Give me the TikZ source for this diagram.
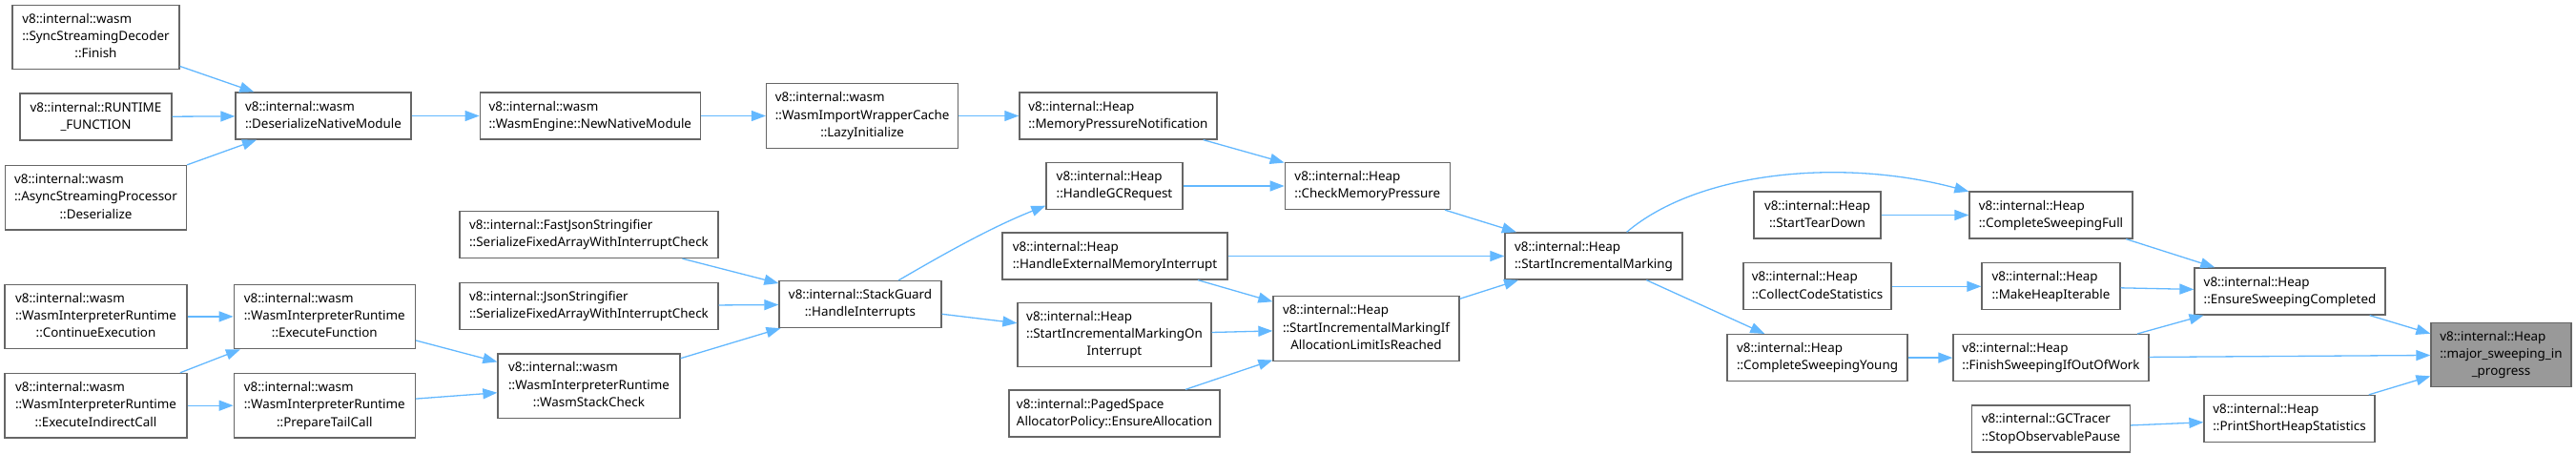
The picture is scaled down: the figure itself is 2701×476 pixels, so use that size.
\documentclass[tikz,border=0pt]{standalone}
\usepackage{fontspec}
\setmainfont{Noto Sans}
\usepackage{tikz}
\usetikzlibrary{arrows.meta, positioning}
\definecolor{edgeblue}{HTML}{63B8FF}
\newcommand{\fnlabel}[2]{\begin{tabular}{@{}l@{}}#1\\\multicolumn{1}{@{}c@{}}{#2}\end{tabular}}

\begin{document}
\begin{tikzpicture}[
  x=1pt, y=-1pt,
  node distance=24pt,
  every node/.style={font=\fontsize{13.4}{18.3}\selectfont},
  fn/.style={draw=black!60, line width=1.3pt, fill=white, inner xsep=5pt, inner ysep=3pt, minimum height=49pt},
  fn3/.style={fn, minimum height=67.5pt},
  cur/.style={fn3, fill=black!40},
  arrow/.style={-{Triangle[length=15pt, width=11pt]}, draw=edgeblue, line width=1.3pt}
]
\useasboundingbox (0,0) rectangle (2701,476);

% Column 1: wasm callers
\node[fn3, minimum width=175pt] (sync) at (100.5,39) {\fnlabel{v8::internal::wasm\\::SyncStreamingDecoder}{::Finish}};
\node[fn, minimum width=159pt, below=24pt of sync] (runtime) {\fnlabel{v8::internal::RUNTIME}{\_FUNCTION}};
\node[fn3, minimum width=190pt, below=25pt of runtime] (async) {\fnlabel{v8::internal::wasm\\::AsyncStreamingProcessor}{::Deserialize}};
\node[fn3, minimum width=191pt, below=56pt of async] (contexec) {\fnlabel{v8::internal::wasm\\::WasmInterpreterRuntime}{::ContinueExecution}};
\node[fn3, minimum width=191pt, below=24.5pt of contexec] (execindirect) {\fnlabel{v8::internal::wasm\\::WasmInterpreterRuntime}{::ExecuteIndirectCall}};

% Column 2
\node[fn, minimum width=184pt] (deser) at (339,121.5) {\fnlabel{v8::internal::wasm}{::DeserializeNativeModule}};
\node[fn3, minimum width=190pt, right=48pt of contexec] (execfn) {\fnlabel{v8::internal::wasm\\::WasmInterpreterRuntime}{::ExecuteFunction}};
\node[fn3, minimum width=190pt, right=48pt of execindirect] (tailcall) {\fnlabel{v8::internal::wasm\\::WasmInterpreterRuntime}{::PrepareTailCall}};

% Column 3
\node[fn, minimum width=231pt, right=71pt of deser] (newnative) {\fnlabel{v8::internal::wasm}{::WasmEngine::NewNativeModule}};
\node[fn, minimum width=271pt] (fastjson) at (617.5,246) {\fnlabel{v8::internal::FastJsonStringifier}{::SerializeFixedArrayWithInterruptCheck}};
\node[fn, minimum width=271pt, below=24.5pt of fastjson] (json) {\fnlabel{v8::internal::JsonStringifier}{::SerializeFixedArrayWithInterruptCheck}};
\node[fn3, minimum width=191pt, below=24.25pt of json] (stackcheck) {\fnlabel{v8::internal::wasm\\::WasmInterpreterRuntime}{::WasmStackCheck}};

% Column 4
\node[fn3, minimum width=201pt, right=68pt of newnative] (lazy) {\fnlabel{v8::internal::wasm\\::WasmImportWrapperCache}{::LazyInitialize}};
\node[fn, minimum width=170pt] (stackguard) at (902,319) {\fnlabel{v8::internal::StackGuard}{::HandleInterrupts}};

% Column 5
\node[fn, minimum width=207pt, right=63pt of lazy] (mempress) {\fnlabel{v8::internal::Heap}{::MemoryPressureNotification}};
\node[fn, minimum width=143pt] (handlegc) at (1168.5,195) {\fnlabel{v8::internal::Heap}{::HandleGCRequest}};
\node[fn, minimum width=236pt] (extmem) at (1169,268.5) {\fnlabel{v8::internal::Heap}{::HandleExternalMemoryInterrupt}};
\node[fn3, minimum width=203pt] (oninterrupt) at (1168.5,351) {\fnlabel{v8::internal::Heap\\::StartIncrementalMarkingOn}{Interrupt}};
\node[fn, minimum width=221pt] (paged) at (1168.5,433.5) {\fnlabel{v8::internal::PagedSpace}{AllocatorPolicy::EnsureAllocation}};

% Column 6
\node[fn, minimum width=173pt, right=106pt of handlegc] (checkmem) {\fnlabel{v8::internal::Heap}{::CheckMemoryPressure}};
\node[fn3, minimum width=195pt] (ifreached) at (1432.5,344.5) {\fnlabel{v8::internal::Heap\\::StartIncrementalMarkingIf}{AllocationLimitIsReached}};

% Column 7
\node[fn, minimum width=186pt] (startinc) at (1671,268.5) {\fnlabel{v8::internal::Heap}{::StartIncrementalMarking}};

% Column 8
\node[fn, minimum width=133pt] (teardown) at (1905.5,225.5) {\fnlabel{v8::internal::Heap}{::StartTearDown}};
\node[fn, minimum width=155pt, below=24.5pt of teardown] (collect) {\fnlabel{v8::internal::Heap}{::CollectCodeStatistics}};
\node[fn, minimum width=189pt, below=24.5pt of collect] (young) {\fnlabel{v8::internal::Heap}{::CompleteSweepingYoung}};

% Column 9
\node[fn, minimum width=171pt] (full) at (2150.5,225.5) {\fnlabel{v8::internal::Heap}{::CompleteSweepingFull}};
\node[fn, minimum width=145pt, below=24.5pt of full] (iterable) {\fnlabel{v8::internal::Heap}{::MakeHeapIterable}};
\node[fn, minimum width=205pt, below=24.5pt of iterable] (finish) {\fnlabel{v8::internal::Heap}{::FinishSweepingIfOutOfWork}};
\node[fn, minimum width=166pt, below=24pt of finish] (stoppause) {\fnlabel{v8::internal::GCTracer}{::StopObservablePause}};

% Column 10
\node[fn, minimum width=200pt] (ensure) at (2401,305.5) {\fnlabel{v8::internal::Heap}{::EnsureSweepingCompleted}};
\node[fn, minimum width=179pt] (printshort) at (2400.5,439) {\fnlabel{v8::internal::Heap}{::PrintShortHeapStatistics}};

% Target
\node[cur, minimum width=147pt] (major) at (2622.5,372) {\fnlabel{v8::internal::Heap\\::major\_sweeping\_in}{\_progress}};

% Calls on the wasm side
\draw[arrow] (sync) -- (deser);
\draw[arrow] (runtime) -- (deser);
\draw[arrow] (async) -- (deser);
\draw[arrow] (deser) -- (newnative);
\draw[arrow] (newnative) -- (lazy);
\draw[arrow] (lazy) -- (mempress);
\draw[arrow] (contexec) -- (execfn);
\draw[arrow] (execindirect) -- (execfn);
\draw[arrow] (execindirect) -- (tailcall);
\draw[arrow] (execfn) -- (stackcheck);
\draw[arrow] (tailcall) -- (stackcheck);

% Interrupt handling
\draw[arrow] (fastjson) -- (stackguard);
\draw[arrow] (json) -- (stackguard);
\draw[arrow] (stackcheck) -- (stackguard);
\draw[arrow] (stackguard.32) .. controls (980,272) and (1035,240) .. (handlegc.196);
\draw[arrow] (stackguard) -- (oninterrupt);

% Incremental marking
\draw[arrow] (mempress) -- (checkmem);
\draw[arrow] (handlegc) -- (checkmem);
\draw[arrow] (checkmem) -- (startinc);
\draw[arrow] (extmem) -- (startinc);
\draw[arrow] (extmem) -- (ifreached);
\draw[arrow] (oninterrupt) -- (ifreached);
\draw[arrow] (paged) -- (ifreached);
\draw[arrow] (ifreached) -- (startinc);

% Sweeping
\draw[arrow] (startinc.36) .. controls (1780,180) and (1930,165) .. (full.164);
\draw[arrow] (startinc) -- (young);
\draw[arrow] (teardown) -- (full);
\draw[arrow] (collect) -- (iterable);
\draw[arrow] (young) -- (finish);
\draw[arrow] (full) -- (ensure);
\draw[arrow] (iterable) -- (ensure);
\draw[arrow] (finish) -- (ensure);
\draw[arrow] (finish) -- (major);
\draw[arrow] (ensure) -- (major);
\draw[arrow] (stoppause) -- (printshort);
\draw[arrow] (printshort) -- (major);

\end{tikzpicture}
\end{document}
